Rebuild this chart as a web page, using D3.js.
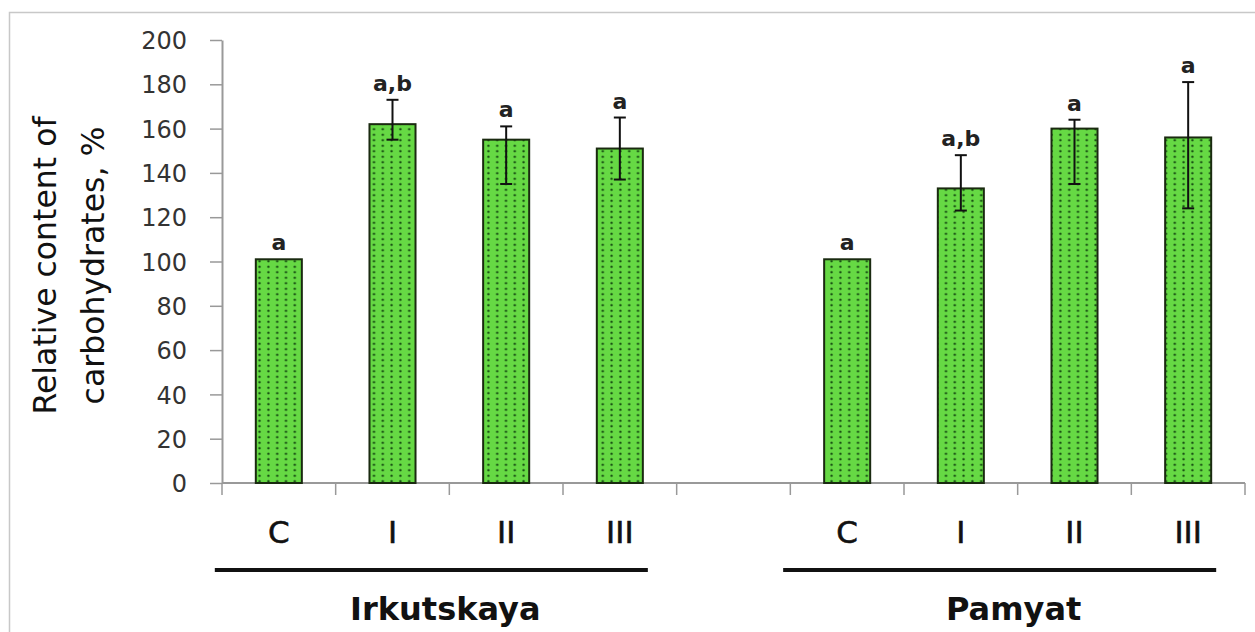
<!DOCTYPE html>
<html>
<head>
<meta charset="utf-8">
<script src="https://cdn.jsdelivr.net/npm/d3@7"></script>
<style>
  html, body { margin: 0; padding: 0; background: #ffffff; }
  svg { display: block; }
</style>
</head>
<body>
<svg id="chart" width="1255" height="632"></svg>
<script>
// ---- data ----
const groups = ["Irkutskaya", "Pamyat"];
const categories = ["C", "I", "II", "III"];
const irkutskayaValues = [101, 162, 155, 151];
const irkutskayaErrHigh = [101, 173, 161, 165];
const irkutskayaErrLow  = [101, 155, 135, 137];
const irkutskayaLetters = ["a", "a,b", "a", "a"];
const pamyatValues = [101, 133, 160, 156];
const pamyatErrHigh = [101, 148, 164, 181];
const pamyatErrLow  = [101, 123, 135, 124];
const pamyatLetters = ["a", "a,b", "a", "a"];
const yTicks = [0, 20, 40, 60, 80, 100, 120, 140, 160, 180, 200];
const yTitleLines = ["Relative content of", "carbohydrates, %"];

// ---- build rows ----
const groupSeries = [
  { name: groups[0], values: irkutskayaValues, hi: irkutskayaErrHigh, lo: irkutskayaErrLow, letters: irkutskayaLetters },
  { name: groups[1], values: pamyatValues, hi: pamyatErrHigh, lo: pamyatErrLow, letters: pamyatLetters }
];
const rows = [];
const slots = [];
groupSeries.forEach((g, gi) => {
  categories.forEach((c, i) => {
    const key = g.name + "|" + c;
    slots.push(key);
    rows.push({ key, group: g.name, cat: c, value: g.values[i], hi: g.hi[i], lo: g.lo[i], letter: g.letters[i] });
  });
  if (gi < groupSeries.length - 1) slots.push("gap" + gi);
});

const svg = d3.select("#chart");
const W = 1255, H = 632;
const plot = { left: 222, right: 1245, top: 40, bottom: 483 };

// frame
svg.append("path")
  .attr("d", `M9.5,${H} L9.5,12.5 L${W},12.5`)
  .attr("fill", "none").attr("stroke", "#c8c8c8").attr("stroke-width", 1.5);

// pattern
const defs = svg.append("defs");
const pat = defs.append("pattern").attr("id", "dots")
  .attr("patternUnits", "userSpaceOnUse").attr("width", 8.8).attr("height", 5.5);
pat.append("rect").attr("width", 8.8).attr("height", 5.5).attr("fill", "#66d944");
pat.append("circle").attr("cx", 4.4).attr("cy", 2.75).attr("r", 1.2).attr("fill", "#174d12");

const x = d3.scaleBand().domain(slots).range([plot.left, plot.right])
  .paddingInner(0.595).paddingOuter(0.2975);
const y = d3.scaleLinear().domain([0, 200]).range([plot.bottom, plot.top]);

// y axis
const yAxis = d3.axisLeft(y).tickValues(yTicks).tickSize(12).tickPadding(23).tickSizeOuter(0);
const gy = svg.append("g").attr("transform", `translate(${plot.left},0)`).call(yAxis);
gy.select(".domain").attr("stroke", "#999").attr("stroke-width", 2);
gy.selectAll(".tick line").attr("stroke", "#999").attr("stroke-width", 1.5);
gy.selectAll(".tick text").attr("font-family", "DejaVu Sans").attr("font-size", 24)
  .attr("fill", "#333").attr("dy", "0.36em");

// x axis line and boundary ticks
const step = x.step();
const boundaries = slots.map(s => x(s) - step * x.paddingInner() / 2);
boundaries.push(boundaries[boundaries.length - 1] + step);
svg.append("line").attr("x1", plot.left).attr("x2", boundaries[boundaries.length - 1])
  .attr("y1", y(0)).attr("y2", y(0)).attr("stroke", "#999").attr("stroke-width", 2);
svg.selectAll(".xb").data(boundaries).enter().append("line")
  .attr("x1", d => d).attr("x2", d => d).attr("y1", y(0)).attr("y2", y(0) + 12)
  .attr("stroke", "#999").attr("stroke-width", 1.5);

// bars
svg.selectAll(".bar").data(rows).enter().append("rect")
  .attr("x", d => x(d.key)).attr("width", x.bandwidth())
  .attr("y", d => y(d.value)).attr("height", d => y(0) - y(d.value))
  .attr("fill", "url(#dots)").attr("stroke", "#1a2a10").attr("stroke-width", 2);

// error bars
const cap = 6;
const eb = svg.selectAll(".err").data(rows.filter(d => d.hi !== d.lo)).enter().append("g");
eb.append("line").attr("x1", d => x(d.key) + x.bandwidth() / 2).attr("x2", d => x(d.key) + x.bandwidth() / 2)
  .attr("y1", d => y(d.hi)).attr("y2", d => y(d.lo)).attr("stroke", "#111").attr("stroke-width", 2);
eb.append("line").attr("x1", d => x(d.key) + x.bandwidth() / 2 - cap).attr("x2", d => x(d.key) + x.bandwidth() / 2 + cap)
  .attr("y1", d => y(d.hi)).attr("y2", d => y(d.hi)).attr("stroke", "#111").attr("stroke-width", 2);
eb.append("line").attr("x1", d => x(d.key) + x.bandwidth() / 2 - cap).attr("x2", d => x(d.key) + x.bandwidth() / 2 + cap)
  .attr("y1", d => y(d.lo)).attr("y2", d => y(d.lo)).attr("stroke", "#111").attr("stroke-width", 2);

// letters above bars
svg.selectAll(".letter").data(rows).enter().append("text")
  .attr("x", d => x(d.key) + x.bandwidth() / 2)
  .attr("y", d => y(Math.max(d.value, d.hi)) - 9)
  .attr("text-anchor", "middle").attr("font-family", "DejaVu Sans").attr("font-weight", "bold")
  .attr("font-size", 22).attr("fill", "#222").text(d => d.letter);

// category labels
svg.selectAll(".cat").data(rows).enter().append("text")
  .attr("x", d => x(d.key) + x.bandwidth() / 2).attr("y", 543)
  .attr("text-anchor", "middle").attr("font-family", "DejaVu Sans")
  .attr("font-size", 31).attr("fill", "#111").attr("stroke", "#111").attr("stroke-width", 0.6)
  .text(d => d.cat);

// group lines and labels
groupSeries.forEach(g => {
  const first = x(g.name + "|" + categories[0]);
  const last = x(g.name + "|" + categories[categories.length - 1]) + x.bandwidth();
  svg.append("line").attr("x1", first - 41).attr("x2", last + 5).attr("y1", 570).attr("y2", 570)
    .attr("stroke", "#111").attr("stroke-width", 4);
  svg.append("text").attr("x", (first + last) / 2 - 4).attr("y", 620)
    .attr("text-anchor", "middle").attr("font-family", "DejaVu Sans").attr("font-weight", "bold")
    .attr("font-size", 32).attr("fill", "#111").text(g.name);
});

// y title
const cy = (plot.top + plot.bottom) / 2 + 4;
const yt = svg.append("text").attr("transform", `translate(56,${cy}) rotate(-90)`)
  .attr("text-anchor", "middle").attr("font-family", "DejaVu Sans").attr("font-size", 31.5).attr("fill", "#111");
yt.selectAll("tspan").data(yTitleLines).enter().append("tspan")
  .attr("x", 0).attr("dy", (d, i) => i === 0 ? 0 : 48).text(d => d);
</script>
</body>
</html>
